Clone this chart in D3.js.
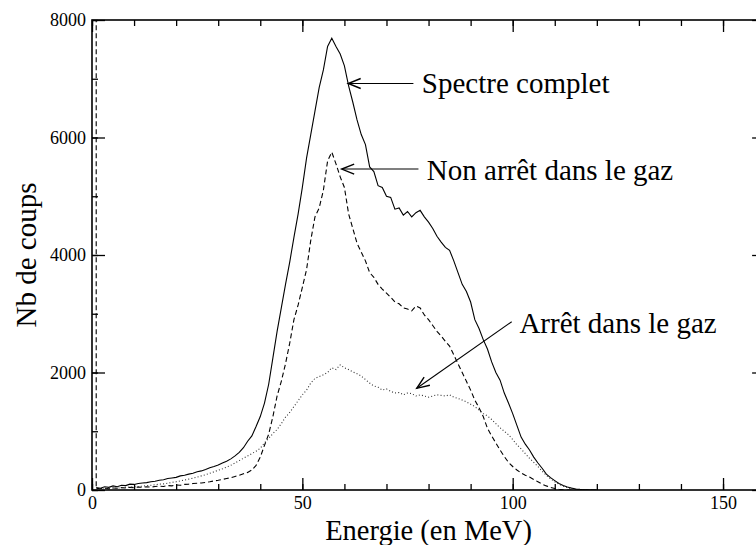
<!DOCTYPE html>
<html><head><meta charset="utf-8">
<script src="https://cdn.jsdelivr.net/npm/d3@7"></script>
<style>body{margin:0;background:#fff}svg{display:block}</style>
</head><body>
<script>
// Energy bins (MeV), 1 MeV wide
const energies = d3.range(1, 121);
// Spectre complet (solid)
const spectreComplet = [
 40,30,55,45,70,55,80,75,100,95,
 110,120,125,140,150,165,175,195,205,215,
 240,250,270,285,310,325,350,380,400,425,
 460,490,530,580,640,720,830,920,1080,1250,
 1480,1800,2250,2700,3100,3500,3880,4300,4700,5150,
 5650,6050,6450,6850,7150,7550,7690,7550,7420,7220,
 6880,6600,6300,6050,5880,5500,5420,5180,5150,5000,
 4980,4780,4800,4680,4740,4650,4720,4760,4650,4560,
 4450,4320,4220,4130,4080,3900,3700,3500,3380,3200,
 2900,2750,2560,2400,2180,2000,1870,1650,1480,1300,
 1100,900,780,680,560,460,370,270,210,160,
 110,75,50,32,18,10,5,2,0,0];
// Non arrêt dans le gaz (dashed); first bin overflows the scale
const nonArretFirstBin = 9000;
const nonArret = [
 25,25,30,20,35,30,40,35,45,40,
 50,45,55,50,60,65,60,75,70,85,
 80,95,100,110,115,120,130,140,155,165,
 180,195,210,230,250,275,300,340,420,560,
 760,950,1250,1600,1850,2150,2500,2900,3150,3450,
 3750,4250,4650,4800,5100,5600,5750,5550,5330,5150,
 4700,4450,4200,4050,3900,3700,3620,3500,3420,3350,
 3280,3200,3170,3100,3080,3050,3130,3100,2980,2900,
 2800,2700,2620,2530,2450,2300,2150,2000,1850,1700,
 1530,1400,1250,1050,920,800,680,570,470,400,
 340,290,250,220,180,140,100,70,45,25,
 12,5,0,0,0,0,0,0,0,0];
// Arrêt dans le gaz (dotted)
const arret = [
 20,25,20,30,35,30,40,45,50,55,
 60,65,75,80,90,100,105,115,130,140,
 155,170,185,200,220,240,260,285,310,335,
 360,390,420,460,500,540,580,620,660,710,
 800,880,960,1030,1130,1240,1320,1420,1520,1620,
 1700,1820,1900,1930,1960,2000,2080,2050,2130,2080,
 2050,2010,1980,1940,1880,1820,1770,1750,1700,1720,
 1680,1650,1660,1620,1650,1640,1600,1620,1600,1580,
 1600,1620,1610,1600,1620,1580,1560,1530,1500,1460,
 1420,1360,1300,1260,1200,1130,1060,1000,940,860,
 770,700,620,540,470,400,320,250,190,140,
 100,65,40,22,12,5,2,0,0,0];

const xMajorTicks = [0, 50, 100, 150];
const xMinorTicks = [0,10,20,30,40,50,60,70,80,90,100,110,120,130,140,150,160];
const yMajorTicks = [0, 2000, 4000, 6000, 8000];
const yMinorTicks = [0,1000,2000,3000,4000,5000,6000,7000,8000];

// Annotations (data coordinates)
const annotationLabels = ["Spectre complet", "Non arrêt dans le gaz", "Arrêt dans le gaz"];
const annotationText = [[78.4, 6757], [79.6, 5276], [101.6, 2677]];
const annotationArrows = [[76.4, 6919, 60.9, 6919], [77.6, 5463, 59.35, 5463], [99.76, 2864, 77.2, 1731]];

const FONT = '"Times New Roman", "Liberation Serif", Times, "DejaVu Serif", "Noto Serif", serif';
const W = 756, H = 545;
const svg = d3.select("body").append("svg").attr("width", W).attr("height", H)
  .attr("font-family", FONT).style("font-family", FONT);
const x = d3.scaleLinear().domain([0, 160]).range([92, 765.1]);
const y = d3.scaleLinear().domain([0, 8000]).range([490, 20]);

const defs = svg.append("defs");
defs.append("clipPath").attr("id", "plot")
  .append("rect").attr("x", x(0)).attr("y", y(8000)).attr("width", x(160) - x(0)).attr("height", y(0) - y(8000));
defs.append("marker").attr("id", "arrow")
  .attr("markerUnits", "userSpaceOnUse").attr("markerWidth", 20).attr("markerHeight", 20)
  .attr("viewBox", "-12 -8 14 16").attr("refX", 0).attr("refY", 0).attr("orient", "auto")
  .append("path").attr("d", "M-10,-4 L0,0 L-10,4").attr("fill", "none").attr("stroke", "#000").attr("stroke-width", 1.1);

// Curves
const series = [
  {pts: energies.map((e, i) => [e, spectreComplet[i]]), dash: null, color: "#000"},
  {pts: [[energies[0], nonArretFirstBin]].concat(energies.map((e, i) => [e, nonArret[i]])), dash: "5,3", color: "#000"},
  {pts: energies.map((e, i) => [e, arret[i]]), dash: "1,2.2", color: "#333"}
];
const line = d3.line().x(d => x(d[0])).y(d => y(d[1]));
const g = svg.append("g").attr("clip-path", "url(#plot)");
series.forEach(s => {
  g.append("path").datum(s.pts)
    .attr("d", line).attr("fill", "none").attr("stroke", s.color)
    .attr("stroke-width", 1.1).attr("stroke-dasharray", s.dash);
});

// Axes (ticks inward on all four sides)
function style(sel) {
  sel.attr("font-family", FONT).attr("font-size", 18);
  sel.select(".domain").remove();
  sel.selectAll("line").attr("stroke", "#000").attr("stroke-width", 1.3);
  sel.selectAll("text").style("font-family", FONT).style("font-size", "18px").attr("fill", "#000");
}
const X0 = y(0), XT = y(8000), YL = x(0), YR = x(160);
svg.append("g").attr("transform", `translate(0,${X0})`)
  .call(d3.axisBottom(x).tickValues(xMinorTicks).tickSizeInner(-6).tickSizeOuter(0).tickFormat("")).call(style);
svg.append("g").attr("transform", `translate(0,${X0})`)
  .call(d3.axisBottom(x).tickValues(xMajorTicks).tickSizeInner(-12).tickSizeOuter(0).tickPadding(6).tickFormat(d3.format("d"))).call(style);
svg.append("g").attr("transform", `translate(0,${XT})`)
  .call(d3.axisTop(x).tickValues(xMinorTicks).tickSizeInner(-6).tickSizeOuter(0).tickFormat("")).call(style);
svg.append("g").attr("transform", `translate(0,${XT})`)
  .call(d3.axisTop(x).tickValues(xMajorTicks).tickSizeInner(-12).tickSizeOuter(0).tickFormat("")).call(style);
svg.append("g").attr("transform", `translate(${YL},0)`)
  .call(d3.axisLeft(y).tickValues(yMinorTicks).tickSizeInner(-6).tickSizeOuter(0).tickFormat("")).call(style);
svg.append("g").attr("transform", `translate(${YL},0)`)
  .call(d3.axisLeft(y).tickValues(yMajorTicks).tickSizeInner(-13).tickSizeOuter(0).tickPadding(6).tickFormat(d3.format("d"))).call(style);
svg.append("g").attr("transform", `translate(${YR},0)`)
  .call(d3.axisRight(y).tickValues(yMinorTicks).tickSizeInner(-6).tickSizeOuter(0).tickFormat("")).call(style);
svg.append("g").attr("transform", `translate(${YR},0)`)
  .call(d3.axisRight(y).tickValues(yMajorTicks).tickSizeInner(-13).tickSizeOuter(0).tickFormat("")).call(style);

// Frame
svg.append("rect").attr("x", YL).attr("y", XT).attr("width", YR - YL).attr("height", X0 - XT)
  .attr("fill", "none").attr("stroke", "#000").attr("stroke-width", 1.6);

// Axis titles
svg.append("text").attr("x", (YL + YR) / 2).attr("y", 539.5).attr("text-anchor", "middle")
  .style("font-family", FONT).style("font-size", "28.5px").text("Energie (en MeV)");
svg.append("text").attr("transform", `translate(36,${(X0 + XT) / 2}) rotate(-90)`).attr("text-anchor", "middle")
  .style("font-family", FONT).style("font-size", "29px").text("Nb de coups");

// Annotations
annotationLabels.forEach((lab, i) => {
  const a = annotationArrows[i];
  svg.append("line").attr("x1", x(a[0])).attr("y1", y(a[1])).attr("x2", x(a[2])).attr("y2", y(a[3]))
    .attr("stroke", "#000").attr("stroke-width", 1.1).attr("marker-end", "url(#arrow)");
  svg.append("text").attr("x", x(annotationText[i][0])).attr("y", y(annotationText[i][1]))
    .style("font-family", FONT).style("font-size", "29px").text(lab);
});
</script>
</body></html>
